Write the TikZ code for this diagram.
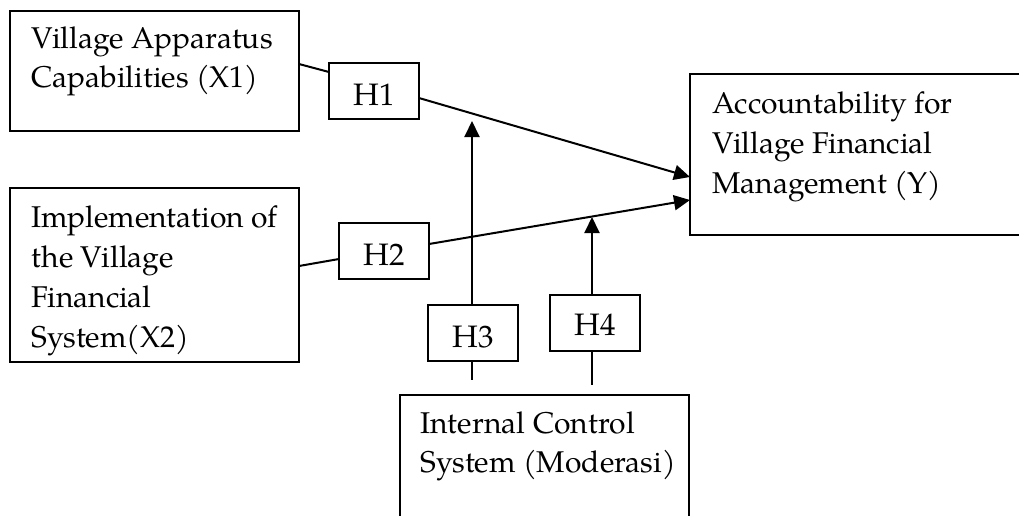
\documentclass[tikz,border=0pt]{standalone}
\usepackage{fontspec}
\setmainfont{TeX Gyre Pagella}
\usetikzlibrary{arrows.meta,fit}
\tikzset{
  box/.style={draw=black, line width=1pt, inner sep=0pt, fit={#1}},
  txt/.style={anchor=base west, inner sep=0pt, font=\fontsize{15pt}{19pt}\selectfont},
  htxt/.style={inner sep=0pt, font=\fontsize{15.5pt}{19pt}\selectfont},
  link/.style={line width=1pt},
  arr/.style={line width=1pt, -{Triangle[length=8pt,width=7.5pt]}}
}
\begin{document}
\begin{tikzpicture}[x=0.5pt,y=-0.5pt]
\useasboundingbox (0,0) rectangle (1019,515);
% main boxes
\node[box={(10,11) (299,131)}] (x1) {};
\node[box={(10,188) (299,362)}] (x2) {};
\node[box={(690,74) (1040,235)}] (y) {};
\node[box={(400,395) (689,540)}] (m) {};
% hypothesis boxes
\node[box={(329,63) (419,119)}] (h1) {};
\node[box={(339,223) (429,279)}] (h2) {};
\node[box={(428,305) (518,361)}] (h3) {};
\node[box={(550,295) (640,351)}] (h4) {};
% texts
\node[txt] (x1a) at (31,48) {Village Apparatus};
\node[txt] (x1b) at (31,87) {Capabilities (X1)};
\node[txt] (x2a) at (31,227) {Implementation of};
\node[txt] (x2b) at (31,267) {the Village};
\node[txt] (x2c) at (31,307) {Financial};
\node[txt] (x2d) at (31,347) {System(X2)};
\node[txt] (ya) at (712,113) {Accountability for};
\node[txt] (yb) at (712,153) {Village Financial};
\node[txt] (yc) at (712,193) {Management (Y)};
\node[txt] (ma) at (420,433) {Internal Control};
\node[txt] (mb) at (420,472) {System (Moderasi)};
\node[htxt] at ([yshift=-2pt]h1.center) {H1};
\node[htxt] at ([yshift=-2pt]h2.center) {H2};
\node[htxt] at ([yshift=-2pt]h3.center) {H3};
\node[htxt] at ([yshift=-1pt]h4.center) {H4};
% connector end points
\coordinate (x1o) at (299,64);
\coordinate (h1i) at (329,72);
\coordinate (h1o) at (419,98);
\coordinate (y1) at (690,177);
\coordinate (x2o) at (299,266);
\coordinate (h2i) at (339,259);
\coordinate (h2o) at (429,244);
\coordinate (y2) at (690,200);
\coordinate (h3t) at (472,305);
\coordinate (p3) at (472,121);
\coordinate (h3b) at (472,361);
\coordinate (q3) at (472,380);
\coordinate (h4t) at (592,295);
\coordinate (p4) at (592,217);
\coordinate (h4b) at (592,351);
\coordinate (q4) at (592,385);
% connectors
\draw[link] (x1o) -- (h1i);
\draw[arr] (h1o) -- (y1);
\draw[link] (x2o) -- (h2i);
\draw[arr] (h2o) -- (y2);
\draw[arr] (h3t) -- (p3);
\draw[link] (h3b) -- (q3);
\draw[arr] (h4t) -- (p4);
\draw[link] (h4b) -- (q4);
\end{tikzpicture}
\end{document}
